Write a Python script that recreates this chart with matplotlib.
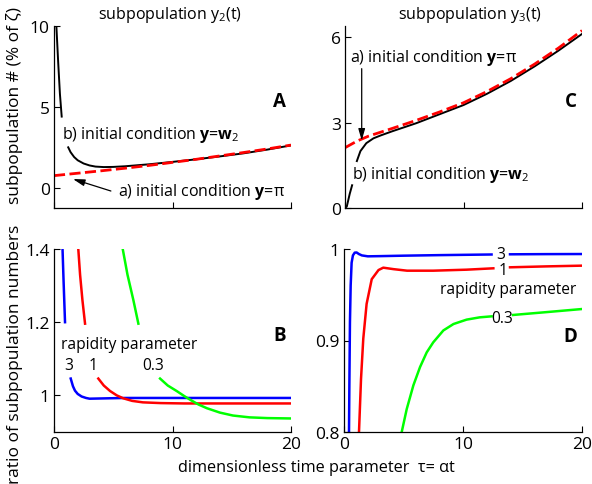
import numpy as np
import matplotlib
matplotlib.use('Agg')
import matplotlib.pyplot as plt

plt.rcParams['font.family'] = ['Open Sans', 'DejaVu Sans']
plt.rcParams['mathtext.fontset'] = 'custom'
plt.rcParams['mathtext.rm'] = 'Open Sans'
plt.rcParams['mathtext.it'] = 'Open Sans:italic'
plt.rcParams['mathtext.bf'] = 'Open Sans:bold'

nan = np.nan

# ---------------- data ----------------
# Panel A: subpopulation y2(t)
A_b_x = [0.2, 0.35, 0.5, 0.65, nan, 1.2, 1.4, 1.7, 2.0, 2.5, 3.0, 3.5, 4.2, 5.0, 6.0, 7.0, 8.0, 10.0, 12.0, 14.0, 16.0, 18.0, 20.0]
A_b_y = [10.0, 7.8, 5.8, 4.4, nan, 2.5, 2.2, 1.9, 1.7, 1.5, 1.38, 1.31, 1.28, 1.29, 1.33, 1.39, 1.45, 1.6, 1.76, 1.94, 2.13, 2.36, 2.62]
A_a_x = [0, 2, 4, 6, 8, 10, 12, 14, 16, 18, 20]
A_a_y = [0.75, 0.9, 1.05, 1.21, 1.38, 1.57, 1.76, 1.97, 2.18, 2.4, 2.64]

# Panel C: subpopulation y3(t)
C_b_x = [0.0, 0.15, 0.4, 0.6, nan, 1.0, 1.3, 1.8, 2.4, 3.0, 4.0, 6.0, 8.0, 10.0, 12.0, 14.0, 16.0, 18.0, 20.0]
C_b_y = [0.0, 0.05, 0.5, 0.8, nan, 1.65, 2.0, 2.28, 2.45, 2.55, 2.7, 2.98, 3.3, 3.62, 4.02, 4.47, 4.98, 5.53, 6.12]
C_a_x = [0, 1, 2, 4, 6, 8, 10, 12, 14, 16, 18, 20]
C_a_y = [2.12, 2.35, 2.53, 2.8, 3.08, 3.38, 3.7, 4.1, 4.55, 5.06, 5.62, 6.24]

# Panel B: ratio, rapidity 3 / 1 / 0.3
B3_x = [0.72, 0.8, 0.93, nan, 1.41, 1.6, 1.77, 2.0, 2.33, 2.7, 3.0, 6.0, 10.0, 20.0]
B3_y = [1.40, 1.32, 1.20, nan, 1.046, 1.025, 1.013, 1.004, 0.997, 0.993, 0.991, 0.993, 0.993, 0.993]
B1_x = [2.05, 2.2, 2.4, 2.62, nan, 3.74, 4.2, 4.73, 5.3, 5.85, 6.6, 7.5, 9.0, 11.0, 15.0, 20.0]
B1_y = [1.40, 1.33, 1.26, 1.196, nan, 1.046, 1.027, 1.012, 1.0, 0.992, 0.985, 0.981, 0.979, 0.978, 0.978, 0.978]
B03_x = [5.8, 6.2, 6.7, 7.12, nan, 8.95, 9.6, 10.35, 11.0, 11.5, 12.2, 12.9, 14.0, 15.1, 16.5, 18.0, 20.0]
B03_y = [1.40, 1.33, 1.26, 1.196, nan, 1.046, 1.027, 1.012, 0.998, 0.988, 0.975, 0.965, 0.953, 0.945, 0.94, 0.938, 0.937]

# Panel D: ratio, rapidity 3 / 1 / 0.3
D3_x = [0.42, 0.45, 0.5, 0.56, 0.64, 0.75, 0.9, 1.06, 1.25, 1.5, 2.0, 3.0, 5.0, 8.0, 12.4, nan, 13.95, 17.0, 20.0]
D3_y = [0.80, 0.85, 0.92, 0.96, 0.985, 0.993, 0.996, 0.9962, 0.9945, 0.993, 0.992, 0.9922, 0.9927, 0.9933, 0.994, nan, 0.9942, 0.9944, 0.9945]
D1_x = [1.26, 1.43, 1.62, 1.9, 2.33, 2.9, 3.3, 4.15, 5.3, 7.5, 10.3, 12.55, nan, 13.95, 17.0, 20.0]
D1_y = [0.80, 0.858, 0.902, 0.94, 0.967, 0.977, 0.9796, 0.978, 0.9763, 0.9763, 0.9774, 0.9789, nan, 0.98, 0.981, 0.9818]
D03_x = [4.85, 5.27, 5.83, 6.39, 6.95, 7.5, 8.35, 9.2, 10.3, 11.4, 12.4, nan, 14.2, 17.0, 20.0]
D03_y = [0.80, 0.825, 0.851, 0.871, 0.887, 0.898, 0.911, 0.918, 0.9228, 0.9253, 0.9264, nan, 0.9279, 0.931, 0.9344]

x_ticks = [0, 10, 20]
x_ticklabels = ['0', '10', '20']
A_yticks = [0, 5, 10]; A_yticklabels = ['0', '5', '10']
C_yticks = [0, 3, 6]; C_yticklabels = ['0', '3', '6']
B_yticks = [1.0, 1.2, 1.4]; B_yticklabels = ['1', '1.2', '1.4']
D_yticks = [0.8, 0.9, 1.0]; D_yticklabels = ['0.8', '0.9', '1']
rapidity_labels = ['3', '1', '0.3']

# ---------------- figure ----------------
W, H = 592, 485
fig = plt.figure(figsize=(W / 100, H / 100), dpi=100)

def ax_px(l, t, r, b):
    return fig.add_axes([l / W, 1 - b / H, (r - l) / W, (b - t) / H])

axA = ax_px(54, 27, 291, 209)
axC = ax_px(345, 27, 582, 209)
axB = ax_px(54, 250, 291, 433)
axD = ax_px(344, 250, 582, 433)

TICK_FS = 12.5
TXT_FS = 11.5
RAP_FS = 11.2

def style(ax, yticks, yticklabels, xlabels=True):
    for s in ['top', 'right']:
        ax.spines[s].set_visible(False)
    for s in ['left', 'bottom']:
        ax.spines[s].set_linewidth(0.9)
    ax.set_xlim(0, 20)
    ax.set_xticks(x_ticks)
    ax.set_xticklabels(x_ticklabels if xlabels else [])
    ax.set_yticks(yticks)
    ax.set_yticklabels(yticklabels)
    ax.tick_params(direction='in', length=4, width=0.8, labelsize=TICK_FS, pad=3)

red = (1, 0, 0)
dash = (4, 1.6)

# Panel A
axA.plot(A_b_x, A_b_y, color='k', lw=1.4)
axA.plot(A_a_x, A_a_y, color=red, lw=2, dashes=dash)
axA.set_ylim(-1.25, 10)
style(axA, A_yticks, A_yticklabels, xlabels=False)
axA.text(0.68, 3.3, r'b) initial condition $\mathbf{y}$=$\mathbf{w}_\mathrm{2}$', fontsize=TXT_FS, va='center', ha='left')
axA.text(5.4, -0.2, r'a) initial condition $\mathbf{y}$=π', fontsize=TXT_FS, va='center', ha='left')
axA.annotate('', xy=(1.6, 0.54), xytext=(4.8, -0.2),
             arrowprops=dict(arrowstyle='-|>,head_width=0.2,head_length=0.7', color='k', lw=0.9, shrinkA=0, shrinkB=0))
axA.text(19.6, 5.37, 'A', fontsize=13.5, fontweight='bold', ha='right', va='center')

# Panel C
axC.plot(C_b_x, C_b_y, color='k', lw=1.4)
axC.plot(C_a_x, C_a_y, color=red, lw=2, dashes=dash)
axC.set_ylim(0, 6.4)
style(axC, C_yticks, C_yticklabels, xlabels=False)
axC.text(0.55, 1.2, r'b) initial condition $\mathbf{y}$=$\mathbf{w}_\mathrm{2}$', fontsize=TXT_FS, va='center', ha='left')
axC.text(0.42, 5.3, r'a) initial condition $\mathbf{y}$=π', fontsize=TXT_FS, va='center', ha='left')
axC.annotate('', xy=(1.41, 2.37), xytext=(1.41, 4.9),
             arrowprops=dict(arrowstyle='-|>,head_width=0.2,head_length=0.7', color='k', lw=0.9, shrinkA=0, shrinkB=0))
axC.text(19.6, 3.77, 'C', fontsize=13.5, fontweight='bold', ha='right', va='center')

# Panel B
axB.plot(B3_x, B3_y, color=(0, 0, 1), lw=1.8)
axB.plot(B1_x, B1_y, color=(1, 0, 0), lw=1.8)
axB.plot(B03_x, B03_y, color=(0, 1, 0), lw=1.8)
axB.set_ylim(0.9, 1.4)
style(axB, B_yticks, B_yticklabels)
axB.text(0.55, 1.141, 'rapidity parameter', fontsize=RAP_FS, ha='left', va='center')
for xx, lab in zip([1.21, 3.26, 8.38], rapidity_labels):
    axB.text(xx, 1.082, lab, fontsize=RAP_FS, ha='center', va='center')
axB.text(19.6, 1.164, 'B', fontsize=13.5, fontweight='bold', ha='right', va='center')

# Panel D
axD.plot(D3_x, D3_y, color=(0, 0, 1), lw=1.8)
axD.plot(D1_x, D1_y, color=(1, 0, 0), lw=1.8)
axD.plot(D03_x, D03_y, color=(0, 1, 0), lw=1.8)
axD.set_ylim(0.8, 1.0)
style(axD, D_yticks, D_yticklabels)
axD.text(13.15, 0.9945, rapidity_labels[0], fontsize=RAP_FS, ha='center', va='center')
axD.text(13.35, 0.977, rapidity_labels[1], fontsize=RAP_FS, ha='center', va='center')
axD.text(13.3, 0.925, rapidity_labels[2], fontsize=RAP_FS, ha='center', va='center')
axD.text(13.8, 0.956, 'rapidity parameter', fontsize=RAP_FS, ha='center', va='center')
axD.text(19.6, 0.905, 'D', fontsize=13.5, fontweight='bold', ha='right', va='center')

# titles / labels
fig.text(170 / W, 1 - 15 / H, r'subpopulation y$_\mathrm{2}$(t)', fontsize=TXT_FS, ha='center', va='center')
fig.text(470 / W, 1 - 15 / H, r'subpopulation y$_\mathrm{3}$(t)', fontsize=TXT_FS, ha='center', va='center')
fig.text(316 / W, 1 - 468 / H, 'dimensionless time parameter  τ= αt', fontsize=11.7, ha='center', va='center')
fig.text(15 / W, 1 - 105 / H, 'subpopulation # (% of ζ)', fontsize=12.5, ha='center', va='center', rotation=90)
fig.text(15 / W, 1 - 354 / H, 'ratio of subpopulation numbers', fontsize=12.5, ha='center', va='center', rotation=90)

fig.savefig('out.png', dpi=100)
